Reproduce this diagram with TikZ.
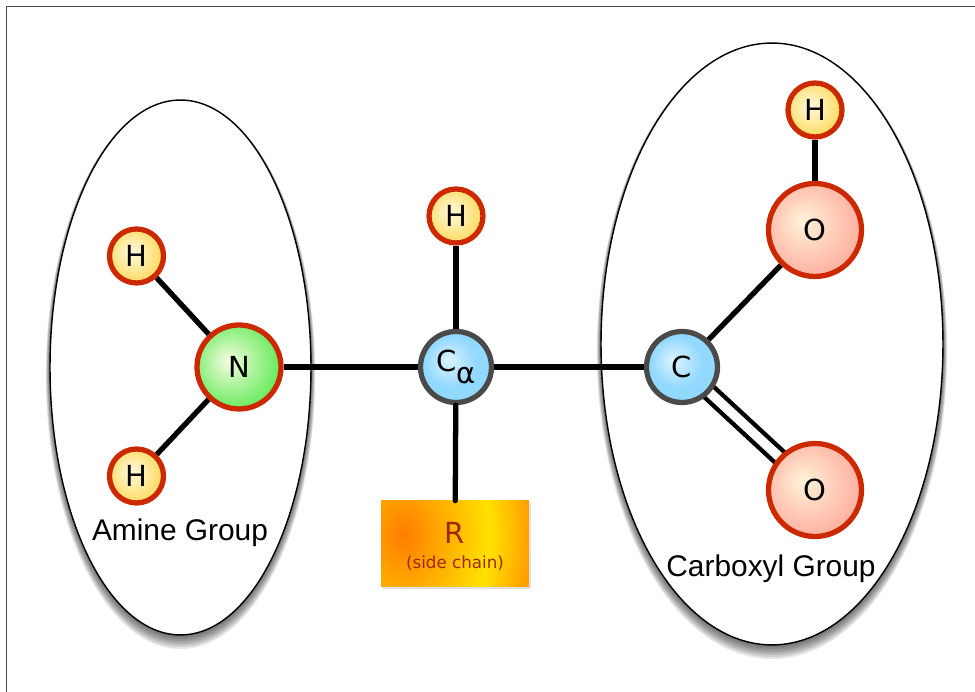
\documentclass[tikz,border=0pt]{standalone}
\usepackage{fontspec}
\setmainfont{DejaVu Sans}
\newfontfamily\labelfont{Liberation Sans}
\usetikzlibrary{shapes.geometric,shadows,backgrounds}
\definecolor{colorH1}{RGB}{255, 250, 225}
\definecolor{colorH2}{RGB}{255, 217, 90}
\definecolor{colorN1}{RGB}{245, 252, 225}
\definecolor{colorN2}{RGB}{80, 232, 70}
\definecolor{colorC1}{RGB}{222, 244, 255}
\definecolor{colorC2}{RGB}{146, 217, 255}
\definecolor{colorO1}{RGB}{255, 243, 218}
\definecolor{colorO2}{RGB}{255, 165, 150}
\definecolor{colorRa}{RGB}{255, 125, 0}
\definecolor{colorRb}{RGB}{255, 226, 0}
\definecolor{colorRc}{RGB}{255, 160, 0}
\definecolor{rimred}{RGB}{204, 41, 0}
\definecolor{rimgray}{RGB}{74, 74, 74}
\definecolor{sidetext}{RGB}{160, 40, 0}
\pgfdeclareradialshading{ballH}{\pgfpoint{-5bp}{4bp}}{color(0bp)=(colorH1); color(28bp)=(colorH2); color(50bp)=(colorH2)}
\pgfdeclareradialshading{ballN}{\pgfpoint{-7bp}{4bp}}{color(0bp)=(colorN1); color(32bp)=(colorN2); color(50bp)=(colorN2)}
\pgfdeclareradialshading{ballC}{\pgfpoint{-6bp}{5bp}}{color(0bp)=(colorC1); color(18bp)=(colorC2); color(50bp)=(colorC2)}
\pgfdeclareradialshading{ballO}{\pgfpoint{-7bp}{5bp}}{color(0bp)=(colorO1); color(32bp)=(colorO2); color(50bp)=(colorO2)}
\pgfdeclareradialshading{sidebox}{\pgfpoint{0bp}{0bp}}{color(0bp)=(colorRa); color(14.5bp)=(colorRb); color(21bp)=(colorRc); color(50bp)=(colorRc)}
\tikzset{
	atom/.style = {circle, inner sep = 0pt, line width = 3pt, shade, text = black, font = \fontsize{16.5}{18}\selectfont, drop shadow = {shadow xshift = 0.8pt, shadow yshift = -0.8pt, opacity = 0.25}},
	atomH/.style = {atom, draw = rimred, shading = ballH, minimum size = 1.08cm},
	atomN/.style = {atom, draw = rimred, shading = ballN, minimum size = 1.68cm},
	atomC/.style = {atom, draw = rimgray, shading = ballC, minimum size = 1.42cm},
	atomO/.style = {atom, draw = rimred, shading = ballO, minimum size = 1.86cm},
	group/.style = {ellipse, inner sep = 0pt, draw = black, fill = white, line width = 0.8pt},
	bond/.style = {line width = 3pt, black},
	grouplabel/.style = {font = \labelfont\fontsize{17}{20}\selectfont, text = black, inner sep = 0pt},
}
\begin{document}
\begin{tikzpicture}[x = 0.02cm, y = 0.02cm]
	\useasboundingbox (0, 0) rectangle (975, 692);
	\draw[line width = 0.6pt, rimgray] (6.5, 0) -- (6.5, 685.5) -- (975, 685.5);
	\begin{scope}[on background layer]
		\foreach \e in {2, 4, ..., 14} {
			\fill[black, opacity = 0.1] (180.5, 324.5 - \e / 2) ellipse ({130.5 + 0.3 * \e} and {267.5 + \e / 2});
			\fill[black, opacity = 0.1] (772, 348 - \e / 2) ellipse ({171 + 0.3 * \e} and {301 + \e / 2});
		}
		\node[group, minimum width = 5.22cm, minimum height = 10.7cm] (amine) at (180.5, 324.5) {};
		\node[group, minimum width = 6.84cm, minimum height = 12.04cm] (carboxyl) at (772, 348) {};
	\end{scope}
	\node[grouplabel] (aminelabel) at (180, 159) {Amine Group};
	\node[grouplabel] (carboxyllabel) at (771, 123) {Carboxyl Group};
	\node[atomN] (n) at (239, 325) {N};
	\node[atomH] (hnup) at (136.5, 436) {H};
	\node[atomH] (hnlow) at (136.5, 216) {H};
	\node[atomC] (ca) at (456, 325) {C\raisebox{-7pt}{α}};
	\node[atomH] (hca) at (456, 476) {H};
	\node[atomC] (c) at (682, 325) {C};
	\node[atomO] (oup) at (815, 462) {O};
	\node[atomO] (olow) at (815, 202) {O};
	\node[atomH] (ho) at (815, 582) {H};
	\node[minimum width = 2.96cm, minimum height = 1.72cm, inner sep = 0pt, text = sidetext, align = center, drop shadow = {shadow xshift = 1pt, shadow yshift = -1pt, opacity = 0.25},
		path picture = {\shade[shading = sidebox] ([shift = {(-202, -191)}]path picture bounding box.center) rectangle ([shift = {(98, 209)}]path picture bounding box.center);}] (r) at (455, 148) {\rule{0pt}{15pt}\fontsize{16.5}{13.6}\selectfont R\\[2.5pt]\fontsize{9.5}{13.6}\selectfont (side chain)};
	\draw[bond] (hnup) -- (n);
	\draw[bond] (hnlow) -- (n);
	\draw[bond] (n) -- (ca);
	\draw[bond] (hca) -- (ca);
	\draw[bond] (ca) -- (c);
	\draw[bond, line cap = round] (ca) -- (r);
	\draw[bond] (c) -- (oup);
	\draw[bond] (oup) -- (ho);
	\begin{scope}[on background layer]
		\draw[line width = 2.5pt, double, double distance = 5.4pt, shorten <= -4pt, shorten >= -4pt] (c) -- (olow);
	\end{scope}
\end{tikzpicture}
\end{document}
